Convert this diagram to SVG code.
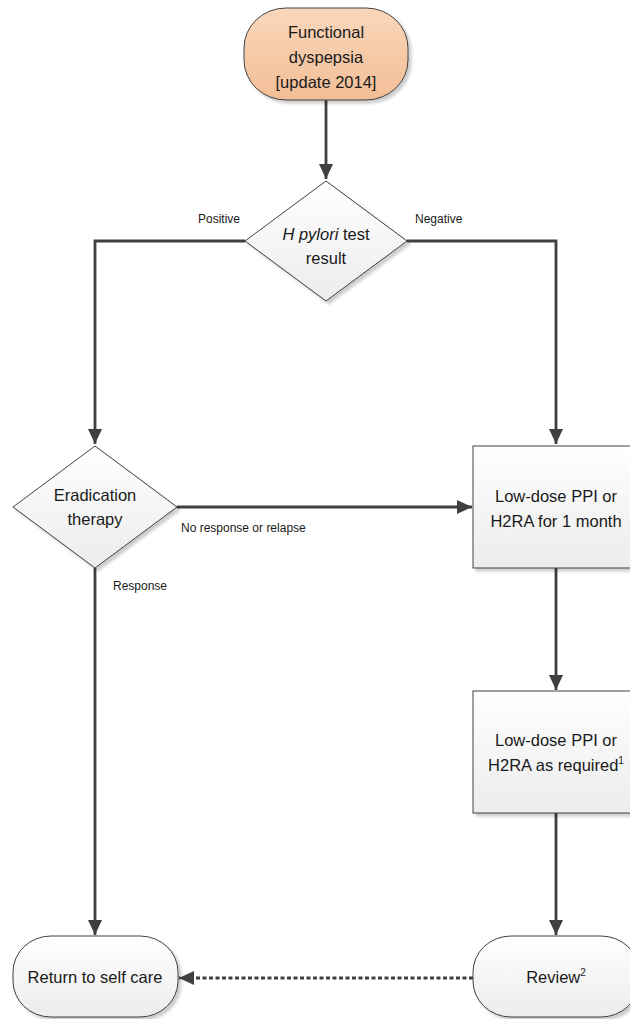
<svg xmlns="http://www.w3.org/2000/svg" width="630" height="1019" viewBox="0 0 630 1019">
<style>
.node{stroke:#404040;stroke-width:1;}
.gray{fill:url(#gGray);}
.orange{fill:url(#gOrange);}
.t{font-family:"Liberation Sans",Arial,sans-serif;font-size:16.5px;fill:#1a1a1a;text-anchor:middle;}
.lbl{font-family:"Liberation Sans",Arial,sans-serif;font-size:12px;fill:#1a1a1a;}
.c{fill:none;stroke:#404040;stroke-width:2.8;}
.dash{stroke-dasharray:4 2.5;}
.sup{font-size:10px;}
</style>
<defs>
<linearGradient id="gGray" x1="0" y1="0" x2="0" y2="1">
<stop offset="0" stop-color="#ffffff"/>
<stop offset="1" stop-color="#ececec"/>
</linearGradient>
<linearGradient id="gOrange" x1="0" y1="0" x2="0" y2="1">
<stop offset="0" stop-color="#fad7bb"/>
<stop offset="1" stop-color="#f2be96"/>
</linearGradient>
<filter id="sh" x="-10%" y="-10%" width="130%" height="130%">
<feDropShadow dx="3" dy="3" stdDeviation="1.5" flood-color="#000" flood-opacity="0.2"/>
</filter>
<marker id="arr" markerUnits="userSpaceOnUse" markerWidth="16" markerHeight="14" refX="15" refY="7" orient="auto">
<path d="M0,0 L15,7 L0,14 Z" fill="#404040"/>
</marker>
</defs>

<g id="connectors">
<path class="c" d="M326,100 L326,179" marker-end="url(#arr)"/>
<path class="c" d="M245,241 L95,241 L95,444" marker-end="url(#arr)"/>
<path class="c" d="M407,241 L556,241 L556,444" marker-end="url(#arr)"/>
<path class="c" d="M177,507 L472,507" marker-end="url(#arr)"/>
<path class="c" d="M95,568 L95,935" marker-end="url(#arr)"/>
<path class="c" d="M556,568 L556,690" marker-end="url(#arr)"/>
<path class="c" d="M556,813 L556,935" marker-end="url(#arr)"/>
<path class="c dash" d="M473,978 L179,978" marker-end="url(#arr)"/>
</g>

<g id="node-start">
<rect class="node orange" x="244" y="8" width="164" height="92" rx="42" ry="40" filter="url(#sh)"/>
<text class="t" x="326" y="38">Functional</text>
<text class="t" x="326" y="63">dyspepsia</text>
<text class="t" x="326" y="88">[update 2014]</text>
</g>

<g id="node-hpylori">
<polygon class="node gray" points="326,181 407,241 326,301 245,241" filter="url(#sh)"/>
<text class="t" x="326" y="240"><tspan font-style="italic">H pylori</tspan> test</text>
<text class="t" x="326" y="264">result</text>
</g>

<g id="node-eradication">
<polygon class="node gray" points="95,446 177,507 95,568 13,507" filter="url(#sh)"/>
<text class="t" x="95" y="501">Eradication</text>
<text class="t" x="95" y="525">therapy</text>
</g>

<g id="node-ppi1">
<rect class="node gray" x="473" y="446" width="166" height="122" filter="url(#sh)"/>
<text class="t" x="556" y="502">Low-dose PPI or</text>
<text class="t" x="556" y="527">H2RA for 1 month</text>
</g>

<g id="node-ppi2">
<rect class="node gray" x="473" y="691" width="166" height="122" filter="url(#sh)"/>
<text class="t" x="556" y="746">Low-dose PPI or</text>
<text class="t" x="556" y="771">H2RA as required<tspan class="sup" dy="-7">1</tspan></text>
</g>

<g id="node-return">
<rect class="node gray" x="13" y="936" width="165" height="81" rx="38" ry="36" filter="url(#sh)"/>
<text class="t" x="95" y="983">Return to self care</text>
</g>

<g id="node-review">
<rect class="node gray" x="473" y="936" width="166" height="81" rx="38" ry="36" filter="url(#sh)"/>
<text class="t" x="556" y="983">Review<tspan class="sup" dy="-7">2</tspan></text>
</g>

<g id="labels">
<text class="lbl" x="198" y="223">Positive</text>
<text class="lbl" x="415" y="223">Negative</text>
<text class="lbl" x="181" y="532">No response or relapse</text>
<text class="lbl" x="113" y="590">Response</text>
</g>
</svg>
